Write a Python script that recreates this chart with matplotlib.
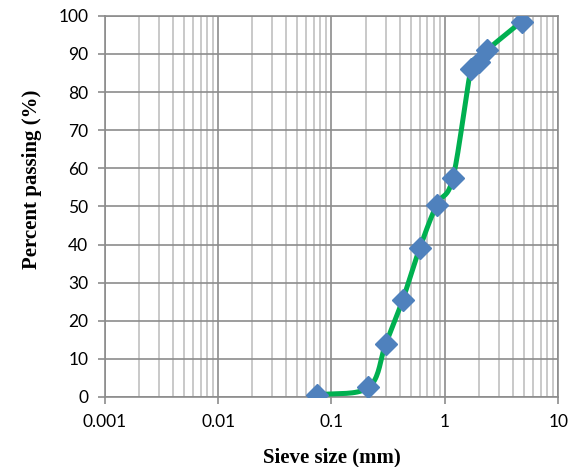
import numpy as np
import matplotlib
matplotlib.use('Agg')
import matplotlib.pyplot as plt
from matplotlib.ticker import LogLocator, FixedLocator, NullFormatter

# sieve data
sieve_mm = [0.075, 0.212, 0.3, 0.425, 0.6, 0.85, 1.18, 1.7, 2.0, 2.36, 4.75]
passing = [0.5, 2.5, 13.8, 25.5, 39.0, 50.5, 57.5, 86.0, 88.0, 91.0, 98.5]
x_ticks = [0.001, 0.01, 0.1, 1, 10]
x_tick_labels = ['0.001', '0.01', '0.1', '1', '10']
y_ticks = list(range(0, 101, 10))


def smooth(xs, ys, n=20):
    # Catmull-Rom through the points in (log x, y), like Excel's smoothed line
    lx = np.log10(xs)
    y = np.asarray(ys, float)
    px = np.concatenate([[2 * lx[0] - lx[1]], lx, [2 * lx[-1] - lx[-2]]])
    py = np.concatenate([[2 * y[0] - y[1]], y, [2 * y[-1] - y[-2]]])
    outx, outy = [], []
    t = np.linspace(0, 1, n)
    for i in range(1, len(px) - 2):
        for arr, out in ((px, outx), (py, outy)):
            p0, p1, p2, p3 = arr[i - 1], arr[i], arr[i + 1], arr[i + 2]
            out.extend(0.5 * (2 * p1 + (-p0 + p2) * t + (2 * p0 - 5 * p1 + 4 * p2 - p3) * t ** 2
                              + (-p0 + 3 * p1 - 3 * p2 + p3) * t ** 3))
    return 10 ** np.array(outx), np.array(outy)


fig = plt.figure(figsize=(5.79, 4.67), dpi=100)
ax = fig.add_axes([0.181, 0.15, 0.783, 0.816])

sx, sy = smooth(sieve_mm, passing)
ax.plot(sx, sy, color='#00B050', lw=3.6, zorder=3, solid_capstyle='round')
ax.plot(sieve_mm, passing, linestyle='none', marker='D', ms=11,
        color='#4F81BD', markeredgecolor='#4F81BD', zorder=4)

ax.set_xscale('log')
ax.set_xlim(0.001, 10)
ax.set_ylim(0, 100)
ax.xaxis.set_major_locator(FixedLocator(x_ticks))
ax.set_xticklabels(x_tick_labels)
ax.xaxis.set_minor_locator(LogLocator(base=10, subs=np.arange(2, 10)))
ax.xaxis.set_minor_formatter(NullFormatter())
ax.set_yticks(y_ticks)

ax.grid(True, which='major', color='#8c8c8c', lw=1.2)
ax.grid(True, which='minor', axis='x', color='#c0c0c0', lw=1.2)
ax.set_axisbelow(True)
for s in ax.spines.values():
    s.set_color('#8c8c8c')
    s.set_linewidth(1.2)

ax.tick_params(which='major', length=5, color='#8c8c8c', width=1.2, labelsize=12.5, pad=7)
ax.tick_params(which='minor', length=0)
for lab in ax.get_xticklabels() + ax.get_yticklabels():
    lab.set_family('Lato')

ax.set_xlabel('Sieve size (mm)', family='Liberation Serif', fontweight='bold', fontsize=15, labelpad=13)
ax.set_ylabel('Percent passing (%)', family='Liberation Serif', fontweight='bold', fontsize=15)
ax.yaxis.set_label_coords(-0.139, 0.57)

fig.savefig('out.png', dpi=100)
